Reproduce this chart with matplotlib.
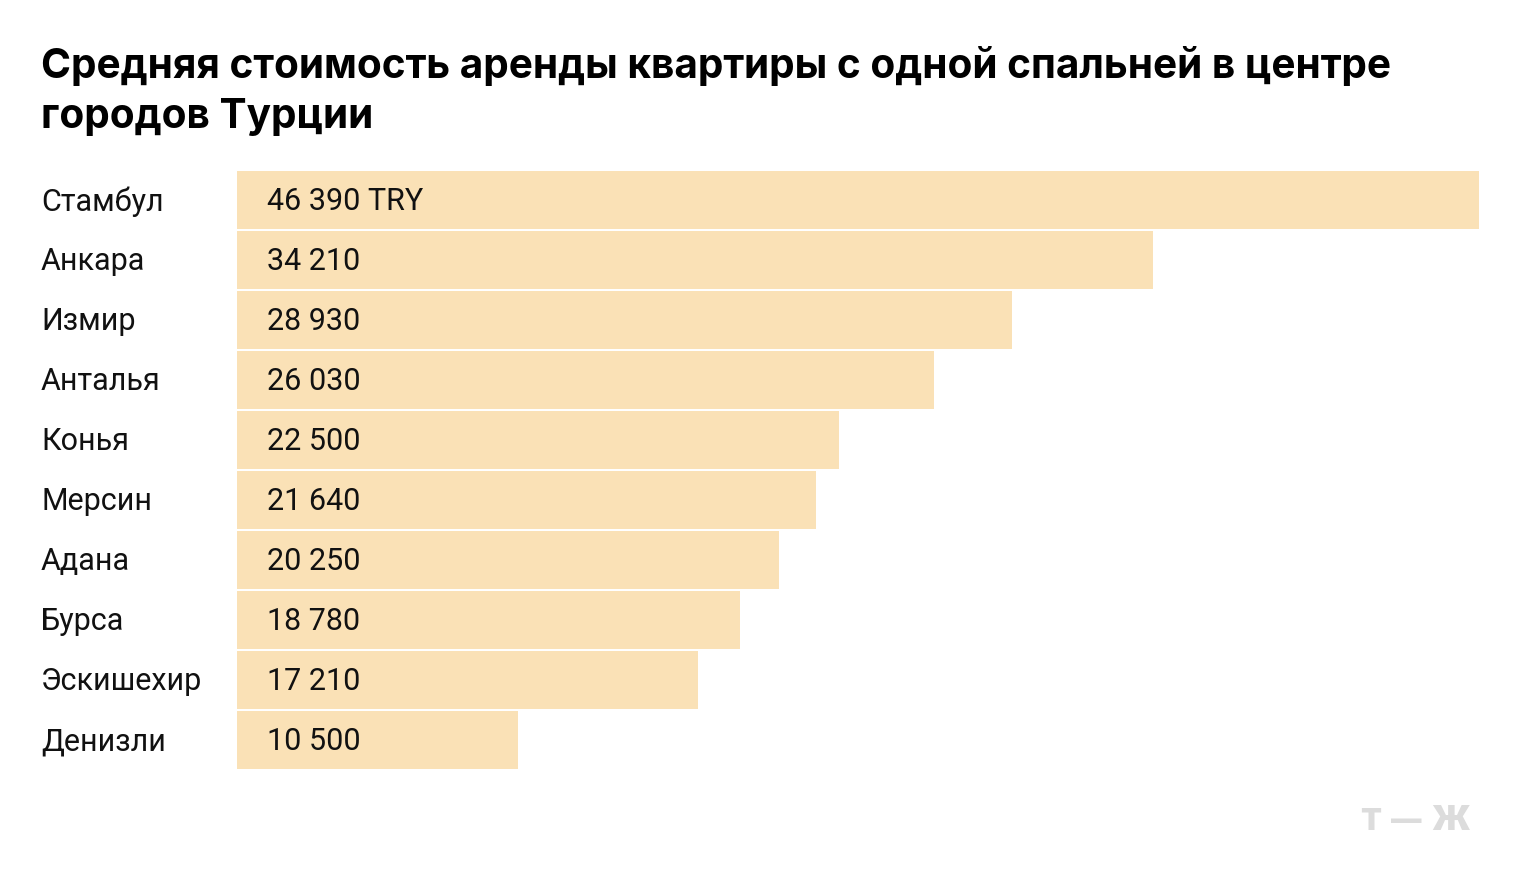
import matplotlib
matplotlib.use("Agg")
import matplotlib.pyplot as plt

# data
cities = ["Стамбул", "Анкара", "Измир", "Анталья", "Конья",
          "Мерсин", "Адана", "Бурса", "Эскишехир", "Денизли"]
rent = [46390, 34210, 28930, 26030, 22500, 21640, 20250, 18780, 17210, 10500]
rent_labels = ["46 390 TRY", "34 210", "28 930", "26 030", "22 500",
               "21 640", "20 250", "18 780", "17 210", "10 500"]

title_lines = ["Средняя стоимость аренды квартиры с одной спальней в центре",
               "городов Турции"]

W, H = 1520, 890
fig = plt.figure(figsize=(W / 100, H / 100), dpi=100)
fig.patch.set_facecolor("white")

# axes placed so the bars line up with the reference
ax = fig.add_axes([237 / W, (H - 770) / H, 1242 / W, 600 / H])
ax.barh(range(len(cities)), rent, height=0.967, color="#fae1b6", left=0)
ax.set_xlim(0, max(rent))
ax.set_ylim(len(cities) - 0.5, -0.5)
ax.axis("off")

font = "Roboto"
for i, (c, lab) in enumerate(zip(cities, rent_labels)):
    ax.text(-196 / 1242 * max(rent), i + 0.03, c, ha="left", va="center",
            fontsize=22, color="#111111", family=font)
    ax.text(30 / 1242 * max(rent), i + 0.03, lab, ha="left", va="center",
            fontsize=22, color="#111111", family=font)

for k, line in enumerate(title_lines):
    fig.text(41 / W, 1 - (78 + 50 * k) / H, line, ha="left", va="baseline",
             fontsize=29.2, fontweight="bold", color="#000000", family="Inter")

# logo
for x, s, fs in [(1360, "Т", 22), (1391, "—", 22), (1431, "Ж", 24)]:
    fig.text(x / W, 1 - 830 / H, s, ha="left", va="baseline", fontsize=fs,
             fontweight="black", color="#dcdcdc", family="Inter")

fig.savefig("out.png", dpi=100, facecolor="white")
